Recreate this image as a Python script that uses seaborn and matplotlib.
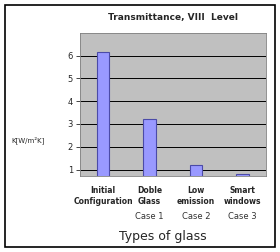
import matplotlib
matplotlib.use("Agg")
import matplotlib.pyplot as plt
import seaborn as sns
import pandas as pd

# data
glass_types = ["Initial\nConfiguration", "Doble\nGlass", "Low\nemission", "Smart\nwindows"]
cases = ["", "Case 1", "Case 2", "Case 3"]
k_values = [6.15, 3.2, 1.2, 0.8]
y_ticks = [1, 2, 3, 4, 5, 6]

df = pd.DataFrame({"glass": glass_types, "k": k_values})

sns.set_style("white")
plt.rcParams["font.family"] = ["DejaVu Sans"]

fig = plt.figure(figsize=(2.8, 2.52), dpi=100)
ax = fig.add_axes([0.285, 0.30, 0.665, 0.57])

sns.barplot(data=df, x="glass", y="k", color="#9999FF", edgecolor="#4B4BA8",
            linewidth=0.8, width=0.27, saturation=1, ax=ax)

ax.set_facecolor("#C0C0C0")
ax.set_ylim(0.7, 7)
ax.set_yticks(y_ticks)
ax.set_yticklabels([str(t) for t in y_ticks], fontsize=6)
ax.yaxis.grid(True, color="black", linewidth=0.7)
ax.set_axisbelow(True)
ax.tick_params(axis="y", length=3, width=0.6, pad=2, left=True)
ax.tick_params(axis="x", length=0, pad=7)
ax.set_xticklabels(glass_types, fontsize=5.5, fontweight="bold", linespacing=1.3)
for lab in ax.get_xticklabels():
    lab.set_verticalalignment("top")
for s in ax.spines.values():
    s.set_color("#808080")
    s.set_linewidth(0.6)

for i, c in enumerate(cases):
    if c:
        ax.text(i, -0.28, c, transform=ax.get_xaxis_transform(), ha="center",
                va="center", fontsize=6, color="#333333")

ax.set_xlabel("")
ax.set_ylabel("")
ax.set_title("Transmittance, VIII  Level", fontsize=6.5, fontweight="bold", pad=9)

fig.text(0.04, 0.445, "K[W/m²K]", fontsize=5, ha="left", va="center")
fig.text(0.58, 0.06, "Types of glass", fontsize=9, ha="center", va="center")

# outer frame
fig.patches.append(plt.Rectangle((0.018, 0.02), 0.964, 0.96, transform=fig.transFigure,
                                 fill=False, edgecolor="black", linewidth=1.2))

fig.savefig("out.png", dpi=100)
